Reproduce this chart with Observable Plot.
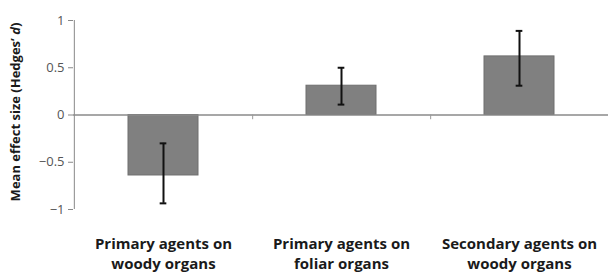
<!DOCTYPE html>
<html><head><meta charset="utf-8">
<script src="https://cdn.jsdelivr.net/npm/d3@7"></script>
<script src="https://cdn.jsdelivr.net/npm/@observablehq/plot@0.6"></script>
<style>
body{margin:0;background:#fff;}
</style>
</head><body><div id="chart"></div>
<script>
const categories = ["Primary agents on\nwoody organs", "Primary agents on\nfoliar organs", "Secondary agents on\nwoody organs"];
const means = [-0.64, 0.31, 0.62];
const lower = [-0.935, 0.11, 0.31];
const upper = [-0.30, 0.50, 0.89];
const yTicks = [-1, -0.5, 0, 0.5, 1];

const data = categories.map((c, i) => ({cat: c, mean: means[i], lo: lower[i], hi: upper[i]}));
const W = 608, ML = 73, MR = 0;
const bw = (W - ML - MR) / categories.length;
const capInset = (bw - 7) / 2;
const font = "'Open Sans', Lato, sans-serif";

const plot = Plot.plot({
  width: W, height: 272,
  marginLeft: ML, marginRight: MR, marginTop: 20, marginBottom: 63,
  style: {fontFamily: font, background: "#fff"},
  x: {domain: categories, padding: 0, label: null},
  y: {domain: [-1, 1], label: null},
  marks: [
    Plot.axisY({ticks: yTicks, tickSize: 5, tickPadding: 4, stroke: "#888", color: "#555", fontSize: 13, tickFormat: d => d === 0 ? "0" : (d < 0 ? "\u2212" + Math.abs(d) : String(d))}),
    Plot.ruleX([categories[0]], {x: d => d, dx: -bw / 2, y1: -1, y2: 1, stroke: "#888", strokeWidth: 1}),
    Plot.axisX({tickSize: 0, tickPadding: 25, fontSize: 15, fontWeight: "bold", color: "#1a1a1a", lineHeight: 1.33}),
    Plot.barY(data, {x: "cat", y: "mean", fill: "#808080", stroke: "#6e6e6e", strokeWidth: 1, insetLeft: 54, insetRight: 54}),
    Plot.ruleY([0], {stroke: "#8a8a8a", strokeWidth: 1.5}),
    Plot.ruleX(categories.slice(0, 2), {x: d => d, dx: bw / 2, y1: 0, y2: -0.05, stroke: "#999"}),
    Plot.ruleX(data, {x: "cat", y1: "lo", y2: "hi", stroke: "#111", strokeWidth: 2}),
    Plot.tickY(data, {x: "cat", y: "lo", stroke: "#111", strokeWidth: 2, insetLeft: capInset, insetRight: capInset}),
    Plot.tickY(data, {x: "cat", y: "hi", stroke: "#111", strokeWidth: 2, insetLeft: capInset, insetRight: capInset})
  ]
});
document.getElementById("chart").appendChild(plot);

const svg = d3.select(plot);
const t = svg.append("text")
  .attr("transform", "translate(20,112) rotate(-90)")
  .attr("text-anchor", "middle")
  .attr("font-family", font)
  .attr("font-size", 13)
  .attr("font-weight", "bold")
  .attr("fill", "#1a1a1a");
t.append("tspan").text("Mean effect size (Hedges\u2019 ");
t.append("tspan").attr("font-style", "italic").text("d");
t.append("tspan").text(")");
</script>
</body></html>
